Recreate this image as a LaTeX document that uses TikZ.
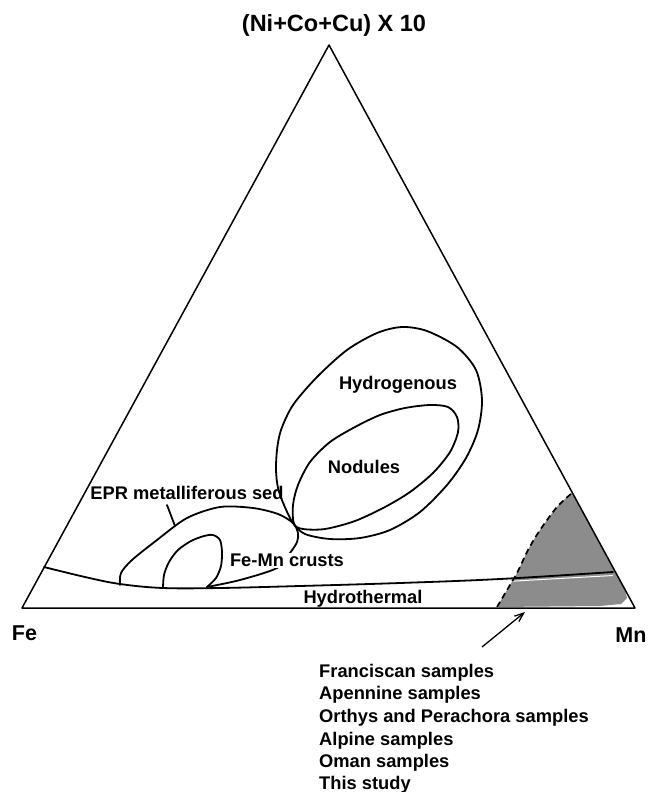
\documentclass[tikz,border=0pt]{standalone}
\usepackage{fontspec}
\setmainfont{Liberation Sans}
\usetikzlibrary{arrows.meta}
\begin{document}
\begin{tikzpicture}[x=1pt,y=-1pt,
  edge/.style={line width=1.5pt, line join=round},
  curve/.style={line width=1.8pt, line cap=round, line join=round},
  dashline/.style={line width=1.7pt, dash pattern=on 6pt off 4pt},
  shade/.style={fill=black!45},
  lab/.style={font=\fontsize{18.3}{20}\selectfont\bfseries, inner sep=0pt, anchor=base},
  listlab/.style={font=\fontsize{18.3}{20}\selectfont\bfseries, inner sep=0pt, anchor=base west},
  corner/.style={font=\fontsize{21.5}{24}\selectfont\bfseries, inner sep=0pt, anchor=base},
  arrowline/.style={line width=1.3pt, -{Straight Barb[length=9pt,width=7pt]}}
]
\useasboundingbox (0,0) rectangle (649,792);

% corners of the ternary diagram
\coordinate (A) at (329,45);
\coordinate (F) at (22,608);
\coordinate (M) at (635,608);

% shaded field near Mn
\fill[shade] plot[smooth] coordinates {(497,607) (507,590) (517,573) (528,550) (540,530) (557,507) (572,493)}
  -- (625,590) -- (627,598) -- (621,604) -- (600,606) -- cycle;
\begin{scope}
\clip plot[smooth] coordinates {(497,607) (507,590) (517,573) (528,550) (540,530) (557,507) (572,493)}
  -- (625,590) -- (627,598) -- (621,604) -- (600,606) -- cycle;
\draw[white, line width=1pt] (480,583) -- (613,575.5);
\end{scope}
\draw[dashline] plot[smooth] coordinates {(497,607) (507,590) (517,573) (528,550) (540,530) (557,507) (572,493)};

% triangle
\draw[edge] (A) -- (F) -- (M) -- cycle;

% hydrothermal boundary
\draw[curve] plot[smooth, tension=0.6] coordinates {(44,567) (85,577) (120,584) (163,588) (220,588) (300,586) (400,583) (500,579) (613,572)};

% EPR metalliferous sediment field
\draw[curve] plot[smooth] coordinates {(120,585) (121,573) (132,560) (157,540) (187,518) (220,507) (253,508) (278,514) (293,523) (298,533) (297,542) (290,553) (277,568) (240,580) (207,587)};

% Fe-Mn crusts field
\draw[curve] plot[smooth] coordinates {(163,588) (164,575) (169,562) (178,550) (191,541) (204,536) (213,535) (220,540) (222,552) (221,566) (216,578) (207,587)};

% Hydrogenous field
\draw[curve] plot[smooth cycle] coordinates {(293,523) (284,505) (278,488) (276,470) (277,450) (281,430) (293,405) (317,377) (347,350) (377,333) (402,327) (427,331) (457,347) (476,370) (482,400) (478,430) (466,458) (447,485) (420,512) (390,530) (360,538) (330,539) (305,534)};

% Nodules field
\draw[curve] plot[smooth cycle] coordinates {(294,524) (293,505) (298,485) (310,462) (330,442) (355,427) (380,415) (405,408) (430,405) (448,407) (457,417) (458,432) (450,452) (433,473) (410,492) (385,507) (355,521) (325,529) (303,529)};

% labels
\node[font=\fontsize{23.5}{26}\selectfont\bfseries, inner sep=0pt, anchor=base] (title) at (334,32) {(Ni+Co+Cu) X 10};
\node[corner] (fe) at (24.5,640) {Fe};
\node[corner] (mn) at (631,642) {Mn};
\node[lab] (hydrog) at (398,389.5) {Hydrogenous};
\node[lab] (nod) at (364,473) {Nodules};
\node[lab] (epr) at (187,499.5) {EPR metalliferous sed};
\node[lab, fill=white, inner sep=1pt] (femn) at (287,566.5) {Fe-Mn crusts};
\node[lab] (hydrot) at (363,603.5) {Hydrothermal};

% EPR leader
\coordinate (eprstart) at (167,505);
\coordinate (eprtip) at (175,526);
\draw[curve] (eprstart) -- (eprtip);

% arrow to shaded field
\coordinate (atail) at (482,647);
\coordinate (ahead) at (525,612);
\draw[arrowline] (atail) -- (ahead);

% sample list
\node[listlab] (l1) at (319,677) {Franciscan samples};
\node[listlab] (l2) at (319,699.5) {Apennine samples};
\node[listlab] (l3) at (319,722) {Orthys and Perachora samples};
\node[listlab] (l4) at (319,745) {Alpine samples};
\node[listlab] (l5) at (319,767) {Oman samples};
\node[listlab] (l6) at (319,789) {This study};
\end{tikzpicture}
\end{document}
